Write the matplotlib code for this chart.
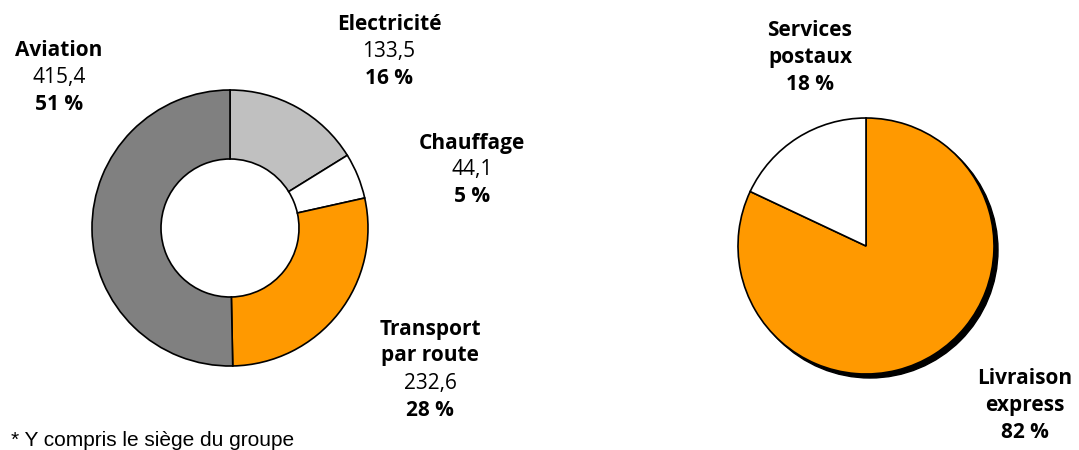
import matplotlib
matplotlib.use('Agg')
import matplotlib.pyplot as plt
from matplotlib.patches import Circle

# donut : repartition par segment (sens horaire depuis le haut)
segments = ['Electricité', 'Chauffage', 'Transport\npar route', 'Aviation']
valeurs = [133.5, 44.1, 232.6, 415.4]
parts = [16, 5, 28, 51]
couleurs = ['#C0C0C0', '#FFFFFF', '#FF9900', '#808080']

# camembert : repartition par activite
activites = ['Livraison\nexpress', 'Services\npostaux']
parts_activite = [82, 18]
couleurs_activite = ['#FF9900', '#FFFFFF']

note = '* Y compris le siège du groupe'

W, H = 1079, 450
fig = plt.figure(figsize=(W / 100, H / 100), dpi=100)
ax = fig.add_axes([0, 0, 1, 1])

edge = dict(edgecolor='black', linewidth=1.2)

ax.pie(valeurs, colors=couleurs, startangle=90, counterclock=False,
       center=(230, H - 228), radius=138,
       wedgeprops=dict(width=69, **edge), frame=True)

# ombre du camembert
ax.add_patch(Circle((870, H - 250), 128, color='black', zorder=0))
ax.pie(parts_activite, colors=couleurs_activite, startangle=90, counterclock=False,
       center=(866, H - 246), radius=128, wedgeprops=edge, frame=True)
ax.set_xlim(0, W)
ax.set_ylim(0, H)
ax.set_aspect('equal')
ax.axis('off')

font = 'Open Sans'
fs = 15
step = 27


def etiquette(x, y, nom, valeur, part):
    for ligne in nom.split('\n'):
        ax.text(x, H - y, ligne, ha='center', va='center', fontsize=fs,
                fontweight='bold', family=font)
        y += step
    if valeur is not None:
        ax.text(x, H - y, f'{valeur:.1f}'.replace('.', ','), ha='center',
                va='center', fontsize=fs, family=font)
        y += step
    ax.text(x, H - y, f'{part} %', ha='center', va='center', fontsize=fs,
            fontweight='bold', family=font)


pos_segments = [(389, 25), (472, 143), (430, 329), (59, 50)]
for (x, y), nom, v, p in zip(pos_segments, segments, valeurs, parts):
    etiquette(x, y, nom, v, p)

pos_activites = [(1025, 379), (810, 31)]
for (x, y), nom, p in zip(pos_activites, activites, parts_activite):
    etiquette(x, y, nom, None, p)

ax.text(11, H - 440, note, ha='left', va='center', fontsize=15,
        family='Liberation Sans')

fig.savefig('out.png', dpi=100)
